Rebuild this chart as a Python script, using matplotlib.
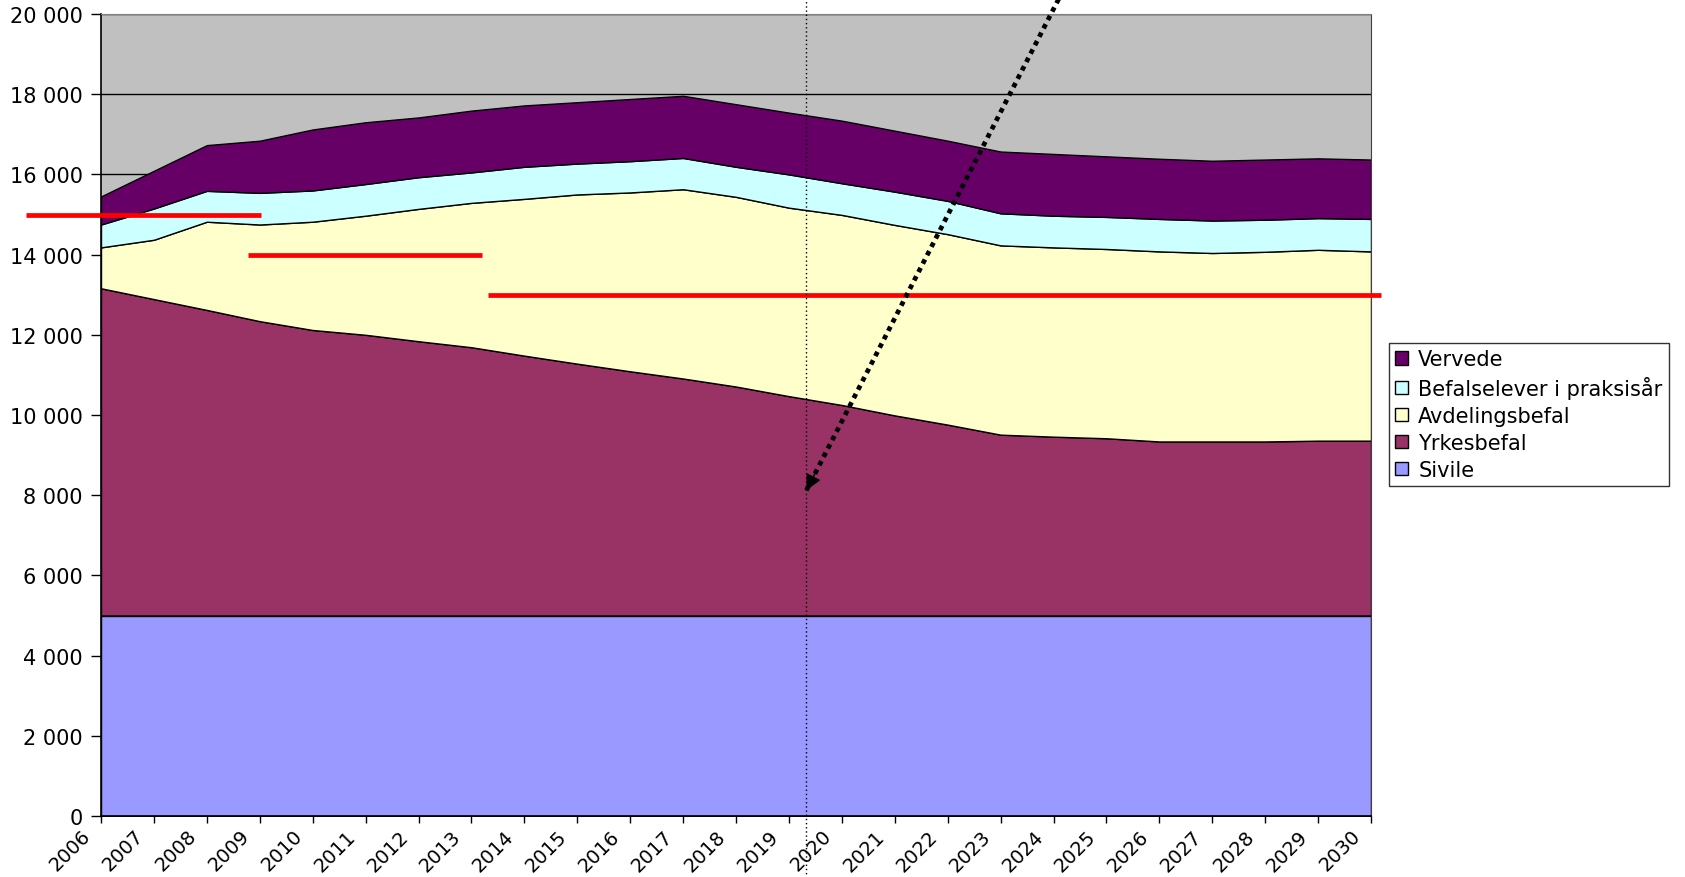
import matplotlib
matplotlib.use("Agg")
import matplotlib.pyplot as plt
import matplotlib.transforms as mtransforms
from matplotlib.patches import Patch
from matplotlib.ticker import FuncFormatter

plt.rcParams['font.family'] = ['DejaVu Sans']

# data
years = list(range(2006, 2031))
sivile = [5000] * 25
yrkesbefal = [8160, 7890, 7620, 7340, 7120, 7000, 6840, 6690, 6480, 6280, 6090, 5910, 5710,
              5470, 5250, 4990, 4760, 4510, 4460, 4420, 4340, 4340, 4340, 4360, 4360]
avdelingsbefal = [1020, 1480, 2200, 2410, 2700, 2970, 3300, 3600, 3910, 4220, 4460, 4720, 4730,
                  4700, 4740, 4750, 4750, 4720, 4720, 4720, 4740, 4700, 4730, 4760, 4720]
befalselever = [570, 780, 770, 790, 780, 790, 790, 760, 800, 770, 780, 780, 750,
                830, 790, 830, 830, 800, 790, 800, 810, 810, 800, 790, 810]
vervede = [700, 940, 1140, 1300, 1520, 1540, 1490, 1540, 1530, 1530, 1550, 1550, 1560,
           1540, 1560, 1520, 1500, 1540, 1540, 1510, 1500, 1490, 1500, 1490, 1480]

series_names = ["Sivile", "Yrkesbefal", "Avdelingsbefal", "Befalselever i praksisår", "Vervede"]
series_colors = ["#9999FF", "#993366", "#FFFFCC", "#CCFFFF", "#660066"]

# red target lines: (level, x start, x end)
targets = [(15000, 2004.59, 2009.02), (14000, 2008.77, 2013.2), (13000, 2013.32, 2030.18)]
vline_x = 2019.32
arrow_tip = (2019.33, 8120)
arrow_tail = (2024.1, 20380)

fig = plt.figure(figsize=(16.85, 8.78), dpi=100)
ax = fig.add_axes([101 / 1685, 1 - 817 / 878, 1270 / 1685, 802 / 878])
ax.set_facecolor("#C0C0C0")

ax.stackplot(years, sivile, yrkesbefal, avdelingsbefal, befalselever, vervede,
             colors=series_colors, edgecolor="black", linewidth=1.0)

ax.set_xlim(2006, 2030)
ax.set_ylim(0, 20000)
ax.set_yticks(range(0, 20001, 2000))
ax.yaxis.set_major_formatter(FuncFormatter(lambda v, p: f"{int(v):,}".replace(",", " ")))
ax.set_axisbelow(True)
ax.yaxis.grid(True, color="black", linewidth=1.0)

# year labels: rotated, sitting a little left of their tick
ax.set_xticks(years)
ax.set_xticklabels([])
shift = mtransforms.ScaledTranslation(-20 / 100, -10 / 100, fig.dpi_scale_trans)
for y in years:
    ax.text(y, 0, str(y), transform=ax.get_xaxis_transform() + shift,
            rotation=45, ha="right", va="top", rotation_mode="anchor", fontsize=14)
ax.tick_params(axis="x", length=5, width=1)
ax.tick_params(axis="y", length=7, width=1, pad=6, labelsize=15)

for side in ["left", "bottom"]:
    ax.spines[side].set_color("black")
    ax.spines[side].set_linewidth(1.2)
ax.spines["top"].set_color("#808080")
ax.spines["right"].set_color("#404040")

# red lines
for level, x0, x1 in targets:
    ax.plot([x0, x1], [level, level], color="red", linewidth=3.4, solid_capstyle="butt",
            clip_on=False, zorder=5)

# dotted vertical line through the whole figure
ax.plot([vline_x, vline_x], [-0.08, 1.03], transform=ax.get_xaxis_transform(),
        color="black", linestyle=(0, (1, 2)), linewidth=1.0, clip_on=False, zorder=6)

# dotted arrow: dotted shaft + solid head
ax.plot([arrow_tail[0], arrow_tip[0]], [arrow_tail[1], arrow_tip[1]], color="black",
        linestyle=(0, (1, 1)), linewidth=3.4, clip_on=False, zorder=7)
head_from = (arrow_tip[0] + 0.04 * (arrow_tail[0] - arrow_tip[0]),
             arrow_tip[1] + 0.04 * (arrow_tail[1] - arrow_tip[1]))
ax.annotate("", xy=arrow_tip, xytext=head_from, annotation_clip=False,
            arrowprops=dict(arrowstyle="-|>", linewidth=1.0, color="black",
                            mutation_scale=24, shrinkA=0, shrinkB=0),
            zorder=7)

handles = [Patch(facecolor=c, edgecolor="black", linewidth=1.0, label=n)
           for n, c in zip(series_names, series_colors)][::-1]
leg = fig.legend(handles=handles, loc="upper left", bbox_to_anchor=(1389 / 1685, 1 - 344 / 878),
                 fontsize=15, frameon=True, fancybox=False, edgecolor="black",
                 handlelength=0.6, handleheight=0.6, handletextpad=0.5,
                 labelspacing=0.33, borderpad=0.3, borderaxespad=0)
leg.get_frame().set_linewidth(1.0)

fig.savefig("out.png", dpi=100)
